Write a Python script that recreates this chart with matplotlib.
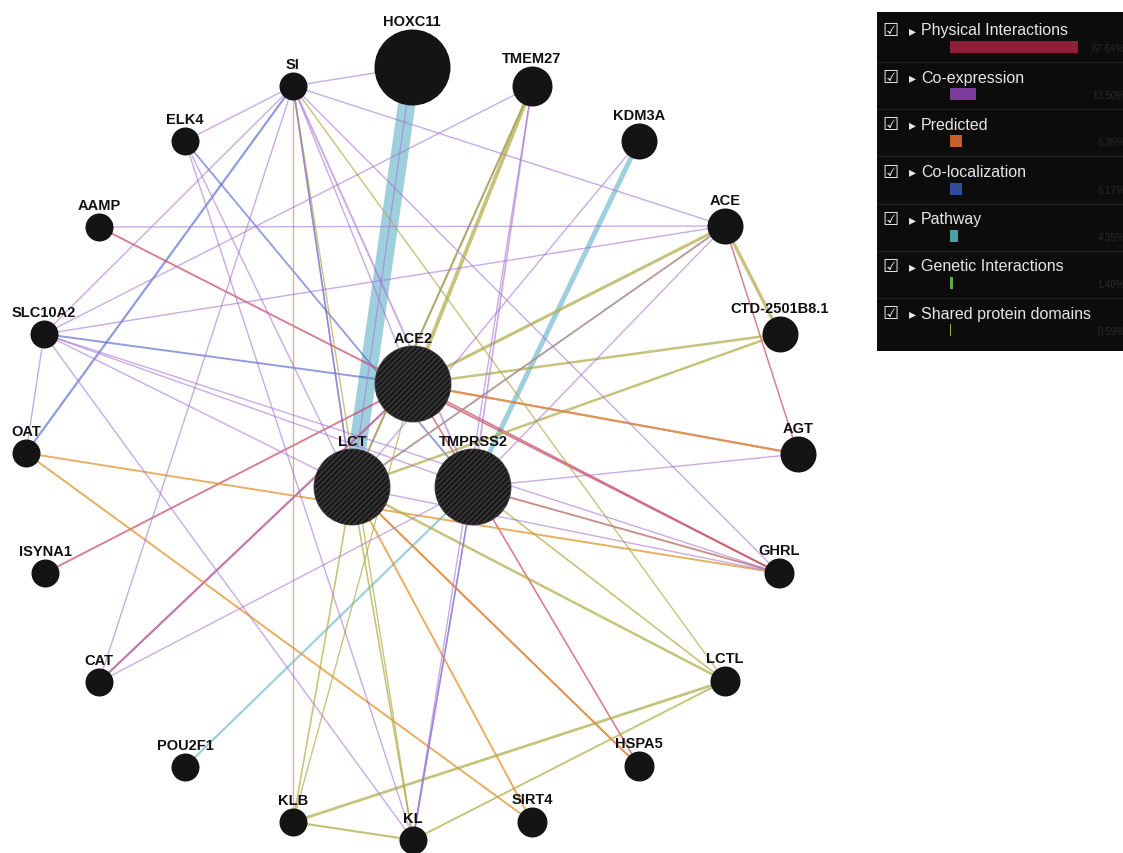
import matplotlib.pyplot as plt
import numpy as np

plt.rcParams['font.family'] = ['Liberation Sans', 'DejaVu Sans']
plt.rcParams['hatch.linewidth'] = 1.0

# nodes (layout position in pixels, radius in pixels)
node_names = ['HOXC11', 'SI', 'TMEM27', 'ELK4', 'KDM3A', 'AAMP', 'ACE', 'SLC10A2',
              'CTD-2501B8.1', 'ACE2', 'LCT', 'TMPRSS2', 'AGT', 'GHRL', 'OAT', 'ISYNA1',
              'CAT', 'POU2F1', 'KLB', 'KL', 'SIRT4', 'HSPA5', 'LCTL']
node_x = [412, 293, 532, 185, 639, 99, 725, 44, 780, 413, 352, 473, 798, 779, 26, 45,
          99, 185, 293, 413, 532, 639, 725]
node_y = [68, 87, 87, 142, 142, 228, 227, 335, 335, 385, 488, 488, 455, 574, 454, 574,
          683, 768, 823, 841, 823, 767, 682]
node_r = [38, 14, 20, 14, 18, 14, 18, 14, 18, 38, 38, 38, 18, 15, 14, 14,
          14, 14, 14, 14, 15, 15, 15]
query_nodes = ['ACE2', 'LCT', 'TMPRSS2']

# network categories
net_names = ['Physical Interactions', 'Co-expression', 'Predicted', 'Co-localization',
             'Pathway', 'Genetic Interactions', 'Shared protein domains']
net_pct = [67.64, 13.50, 6.35, 6.17, 4.35, 1.40, 0.59]
bar_colors = ['#8f1f38', '#7c3b98', '#c5602a', '#2f4b9b', '#4f9ca9', '#5cae4a', '#b1a83a']

edge_style = {
    'phys':   ('#c64a62', 0.7),
    'coexp':  ('#a873d4', 0.6),
    'pred':   ('#e39a3a', 0.8),
    'coloc':  ('#5468cc', 0.65),
    'path':   ('#86c4d4', 0.8),
    'shared': ('#b0aa45', 0.7),
}

# edges: (node a, node b, network, width in pt)
edges = [
    ('HOXC11', 'LCT', 'path', 12.5),
    ('KDM3A', 'TMPRSS2', 'path', 3.6),
    ('POU2F1', 'TMPRSS2', 'path', 1.6),
    ('OAT', 'SI', 'coloc', 1.6),
    ('ELK4', 'TMPRSS2', 'coloc', 1.3),
    ('SLC10A2', 'ACE2', 'coloc', 1.4),
    ('SI', 'LCT', 'coloc', 1.2),
    ('TMEM27', 'LCT', 'coloc', 1.0),
    ('KL', 'TMPRSS2', 'coloc', 1.0),
    ('AAMP', 'GHRL', 'phys', 1.4),
    ('ISYNA1', 'ACE2', 'phys', 1.4),
    ('CAT', 'ACE2', 'phys', 1.6),
    ('ACE', 'AGT', 'phys', 1.1),
    ('ACE2', 'AGT', 'phys', 1.5),
    ('ACE2', 'GHRL', 'phys', 1.2),
    ('ACE2', 'HSPA5', 'phys', 1.2),
    ('LCT', 'HSPA5', 'phys', 1.2),
    ('OAT', 'GHRL', 'pred', 1.4),
    ('OAT', 'SIRT4', 'pred', 1.4),
    ('ACE2', 'AGT', 'pred', 1.4),
    ('TMPRSS2', 'GHRL', 'pred', 1.4),
    ('LCT', 'SIRT4', 'pred', 1.4),
    ('LCT', 'HSPA5', 'pred', 1.4),
    ('TMEM27', 'ACE2', 'shared', 2.8),
    ('TMEM27', 'LCT', 'shared', 1.6),
    ('ACE', 'ACE2', 'shared', 2.2),
    ('ACE', 'LCT', 'shared', 1.4),
    ('ACE', 'CTD-2501B8.1', 'shared', 2.4),
    ('CTD-2501B8.1', 'ACE2', 'shared', 1.8),
    ('CTD-2501B8.1', 'LCT', 'shared', 1.8),
    ('LCT', 'LCTL', 'shared', 1.8),
    ('TMPRSS2', 'LCTL', 'shared', 1.2),
    ('KL', 'LCTL', 'shared', 1.4),
    ('KLB', 'LCTL', 'shared', 2.0),
    ('KLB', 'KL', 'shared', 1.6),
    ('KLB', 'LCT', 'shared', 1.2),
    ('KLB', 'ACE2', 'shared', 1.0),
    ('KL', 'LCT', 'shared', 1.2),
    ('KL', 'SI', 'shared', 1.0),
    ('SI', 'LCTL', 'shared', 1.0),
    ('SI', 'KLB', 'shared', 1.0),
    ('SI', 'HOXC11', 'coexp', 1.0),
    ('SI', 'ELK4', 'coexp', 1.0),
    ('SI', 'SLC10A2', 'coexp', 1.0),
    ('SI', 'ACE', 'coexp', 1.0),
    ('SI', 'GHRL', 'coexp', 1.0),
    ('SI', 'LCT', 'coexp', 1.0),
    ('SI', 'TMPRSS2', 'coexp', 1.4),
    ('SI', 'ACE2', 'coexp', 1.0),
    ('SI', 'CAT', 'coexp', 1.0),
    ('ELK4', 'KL', 'coexp', 1.0),
    ('ELK4', 'LCT', 'coexp', 1.0),
    ('AAMP', 'ACE', 'coexp', 1.0),
    ('SLC10A2', 'OAT', 'coexp', 1.0),
    ('SLC10A2', 'TMEM27', 'coexp', 1.0),
    ('SLC10A2', 'ACE', 'coexp', 1.0),
    ('SLC10A2', 'LCT', 'coexp', 1.0),
    ('SLC10A2', 'TMPRSS2', 'coexp', 1.0),
    ('SLC10A2', 'GHRL', 'coexp', 1.0),
    ('SLC10A2', 'KL', 'coexp', 1.0),
    ('TMEM27', 'TMPRSS2', 'coexp', 1.2),
    ('TMEM27', 'KL', 'coexp', 1.0),
    ('KDM3A', 'LCT', 'coexp', 1.0),
    ('ACE', 'TMPRSS2', 'coexp', 1.0),
    ('ACE', 'LCT', 'coexp', 1.0),
    ('TMPRSS2', 'AGT', 'coexp', 1.0),
    ('TMPRSS2', 'GHRL', 'coexp', 1.0),
    ('HOXC11', 'LCT', 'coexp', 0.9),
    ('CAT', 'TMPRSS2', 'coexp', 1.0),
    ('CAT', 'ACE2', 'coexp', 1.0),
    ('KL', 'TMPRSS2', 'coexp', 1.2),
    ('LCT', 'GHRL', 'coexp', 1.0),
]

pos = {n: (x, y) for n, x, y in zip(node_names, node_x, node_y)}

fig = plt.figure(figsize=(11.23, 8.54), dpi=100, facecolor='white')
ax = fig.add_axes([0, 0, 1, 1])
ax.set_xlim(0, 1123)
ax.set_ylim(854, 0)
ax.axis('off')

for a, b, kind, w in edges:
    col, alpha = edge_style[kind]
    ax.plot([pos[a][0], pos[b][0]], [pos[a][1], pos[b][1]], color=col, alpha=alpha,
            lw=w, solid_capstyle='butt', zorder=1)

for n, x, y, r in zip(node_names, node_x, node_y, node_r):
    s = (2 * r * 0.72) ** 2
    if n in query_nodes:
        ax.scatter([x], [y], s=s, facecolor='#191919', edgecolor='#3c3c3c', hatch='//////',
                   linewidths=0.6, zorder=3)
    else:
        ax.scatter([x], [y], s=s, color='#141414', linewidths=0, zorder=3)
    ax.text(x, y - r - 4, n, ha='center', va='baseline', fontsize=10.5,
            fontweight='bold', color='#111111', zorder=4)

# legend panel
lg = fig.add_axes([877 / 1123, 1 - 352 / 854, 246 / 1123, 339 / 854])
lg.set_xlim(0, 246)
lg.set_ylim(339, 0)
lg.set_facecolor('#0c0c0c')
for sp in lg.spines.values():
    sp.set_visible(False)
lg.set_xticks([])
lg.set_yticks([])

row_h = 47.2
rows = np.arange(len(net_names))
bar_y = 35 + rows * row_h
lg.barh(bar_y, [p * 1.89 for p in net_pct], left=73, height=12,
        color=bar_colors, edgecolor='none')
for i, (name, pct) in enumerate(zip(net_names, net_pct)):
    ty = 18 + i * row_h
    lg.text(5, ty, '\u2611', color='#e8e8e8', fontsize=13, va='center', ha='left',
            family=['DejaVu Sans'], fontweight='bold')
    lg.text(32, ty, '\u25b8', color='#e8e8e8', fontsize=10, va='center', ha='left',
            family=['DejaVu Sans'])
    lg.text(44, ty, name, color='#e6e6e6', fontsize=11.5, va='center', ha='left')
    lg.text(248, bar_y[i] + 1, '%.2f%%' % pct, color='#2a2a2a', fontsize=7,
            va='center', ha='right', clip_on=True)
    if i < len(net_names) - 1:
        lg.axhline(ty + 32, color='#222222', lw=0.8)

fig.savefig('out.png', dpi=100, facecolor='white')
